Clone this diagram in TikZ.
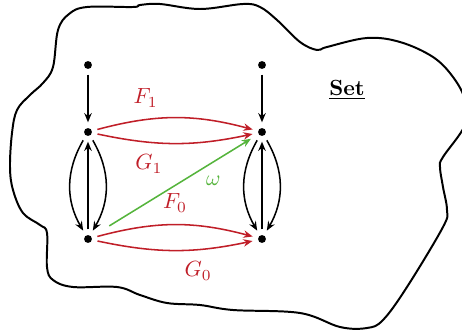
\documentclass[tikz,border=0pt]{standalone}
\usepackage{amsmath,amssymb}
\usepackage{tikz}
\usetikzlibrary{arrows.meta}
\definecolor{rouge}{RGB}{192,30,40}
\definecolor{vert}{RGB}{85,180,60}
\tikzset{
    point/.style={circle, fill=black, inner sep=0pt, minimum size=3.6pt, outer sep=2.6pt},
    fleche/.style={-{Stealth[length=4.2pt, width=3.4pt, inset=1.4pt]}, line width=0.7pt},
    foncteur/.style={fleche, rouge}
}

\begin{document}
\begin{tikzpicture}[x=1.6mm, y=-1.6mm]
    % Cadre
    \useasboundingbox (0,0) rectangle (46.2,33.3);
    \clip (0,0) rectangle (46.2,33.3);

    % Contour de la categorie
    \draw[line width=0.9pt] plot[smooth cycle, tension=0.6] coordinates {
        (5.8,3.0) (6.9,1.4) (8.7,0.7) (13.3,0.7) (14.0,0.5) (16,0.4) (20,0.9)
        (24.3,0.4) (26,0.7) (27.7,2.0) (30,4.2) (31.7,5.0) (32.7,4.7) (36.7,3.8)
        (40,4.2) (43.3,5.7) (45.3,7.7) (46.5,10) (46.5,12.5) (44.3,15.7) (44,16.7)
        (44.3,18.7) (44.7,21) (44.3,22.7) (40.7,28.7) (38.3,32) (36.7,32.8)
        (34,32.7) (30,31.3) (23.3,31) (20,30.5) (16.7,30.3) (14,29.5) (11.7,28.7)
        (7.3,28.7) (5.3,28) (4.7,26.7) (4.7,23.3) (4,22.5) (2.3,21.3) (1.3,19)
        (1,16.7) (1.2,13.3) (1.7,11) (3,9.5) (4.3,8.3) (5.3,6.7)};
    \node (set) at (34.7,9.0) {$\underline{\textbf{Set}}$};

    % Points
    \node[point] (a2) at (8.8,6.5) {};
    \node[point] (b2) at (26.2,6.5) {};
    \node[point] (a1) at (8.8,13.2) {};
    \node[point] (b1) at (26.2,13.2) {};
    \node[point] (a0) at (8.8,23.9) {};
    \node[point] (b0) at (26.2,23.9) {};

    % Fleches verticales
    \draw[fleche] (a2) -- (a1);
    \draw[fleche] (b2) -- (b1);
    \draw[fleche] (a0) -- (a1);
    \draw[fleche] (b0) -- (b1);
    \draw[fleche] (a1) to[bend right=30] (a0);
    \draw[fleche] (a1) to[bend left=30] (a0);
    \draw[fleche] (b1) to[bend right=30] (b0);
    \draw[fleche] (b1) to[bend left=30] (b0);

    % Foncteurs
    \draw[foncteur] (a1) to[bend left=15] node[pos=0.3, above=2pt] {$F_1$} (b1);
    \draw[foncteur] (a1) to[bend right=12] node[pos=0.32, below=2pt] {$G_1$} (b1);
    \draw[foncteur] (a0) to[bend left=15] node[pos=0.5, above=2pt] {$F_0$} (b0);
    \draw[foncteur] (a0) to[bend right=12] node[pos=0.66, below=2pt] {$G_0$} (b0);

    % Transformation
    \draw[fleche, vert, shorten <=7pt, shorten >=1.5pt] (a0) -- node[pos=0.66, below right=-1pt] {$\omega$} (b1);
\end{tikzpicture}
\end{document}
